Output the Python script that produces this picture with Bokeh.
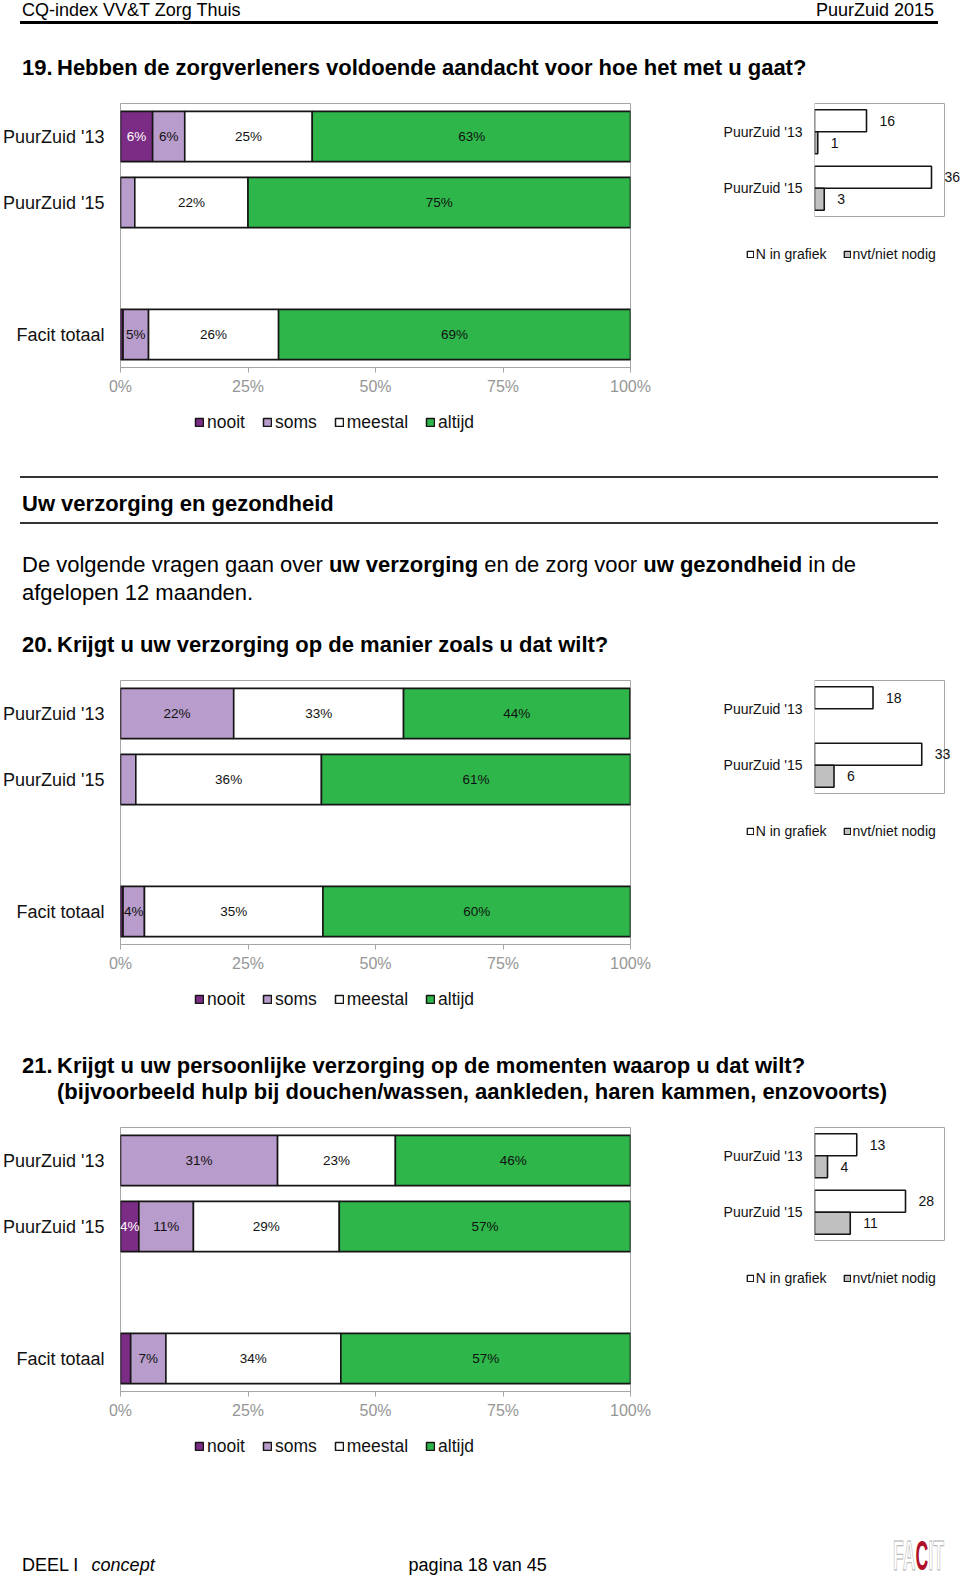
from bokeh.plotting import figure
from bokeh.layouts import column, row
from bokeh.models import (Range1d, FixedTicker, Legend, LegendItem, LabelSet,
                          ColumnDataSource, Div, BoxAnnotation)
from bokeh.embed import file_html
from bokeh.resources import INLINE
from bokeh.core.properties import value

FONT = "Liberation Sans"

# ---------------- data ----------------
rows = ["PuurZuid '13", "PuurZuid '15", "Facit totaal"]
answer_cats = ["nooit", "soms", "meestal", "altijd"]
answer_colors = ["#7B2C84", "#B89CCB", "#FFFFFF", "#2EB64A"]
tick_vals = [0, 25, 50, 75, 100]
tick_labels = ["0%", "25%", "50%", "75%", "100%"]

q19_nooit = [6.3, 0.0, 0.5]
q19_soms = [6.3, 2.8, 5.0]
q19_meestal = [25.0, 22.2, 25.5]
q19_altijd = [62.5, 75.0, 69.0]

q20_nooit = [0.0, 0.0, 0.5]
q20_soms = [22.2, 3.0, 4.2]
q20_meestal = [33.3, 36.4, 35.0]
q20_altijd = [44.4, 60.6, 60.3]

q21_nooit = [0.0, 3.6, 2.0]
q21_soms = [30.8, 10.7, 6.9]
q21_meestal = [23.1, 28.6, 34.3]
q21_altijd = [46.2, 57.1, 56.8]

n_rows = ["PuurZuid '13", "PuurZuid '15"]
n_cats = ["N in grafiek", "nvt/niet nodig"]
n_colors = ["#FFFFFF", "#C0C0C0"]
n_max = 40
q19_n = [16, 36]
q19_nvt = [1, 3]
q20_n = [18, 33]
q20_nvt = [0, 6]
q21_n = [13, 28]
q21_nvt = [4, 11]

GRAY = "#a6a6a6"
EDGE = "#151515"


def bare(width, height):
    p = figure(width=width, height=height, x_range=Range1d(0, 1), y_range=Range1d(0, 1),
               output_backend="svg", toolbar_location=None, x_axis_location=None,
               y_axis_location=None, min_border=0, min_border_left=0, min_border_right=0,
               min_border_top=0, min_border_bottom=0, frame_align=False)
    p.outline_line_color = None
    p.xgrid.visible = False
    p.ygrid.visible = False
    return p


def swatch_renderer(p, color, lw):
    # legend-only renderer: one zero-size row, so nothing shows on the canvas
    src = ColumnDataSource(dict(y=[0.5], left=[0.0], right=[0.0]))
    return p.hbar(y="y", left="left", right="right", height=0.0, fill_color=color,
                  line_color=EDGE, line_width=lw, source=src)


def main_chart(nooit, soms, meestal, altijd):
    ypos = [0, 1, 3]
    series = [nooit, soms, meestal, altijd]
    src = ColumnDataSource(dict(y=ypos, nooit=nooit, soms=soms,
                                meestal=meestal, altijd=altijd))
    p = figure(width=700, height=309, x_range=Range1d(0, 100),
               y_range=Range1d(3.5, -0.5), output_backend="svg",
               toolbar_location=None, min_border_left=120, min_border_right=70,
               min_border_top=10, min_border_bottom=35, frame_align=False)
    p.hbar_stack(answer_cats, y="y", height=0.76, color=answer_colors,
                 line_color=EDGE, line_width=1.6, source=src)
    xs, ys, ts, cs = [], [], [], []
    for i in range(len(ypos)):
        left = 0.0
        for k, s in enumerate(series):
            v = s[i]
            if v >= 3.5:
                xs.append(left + v / 2)
                ys.append(ypos[i])
                ts.append("%d%%" % int(v + 0.5))
                cs.append("#ffffff" if k == 0 else "#111111")
            left += v
    lab = LabelSet(x="x", y="y", text="t", text_color="c",
                   source=ColumnDataSource(dict(x=xs, y=ys, t=ts, c=cs)),
                   text_align="center", text_baseline="middle",
                   text_font=value(FONT), text_font_size="13.5px")
    p.add_layout(lab)

    p.xgrid.visible = False
    p.ygrid.visible = False
    p.outline_line_color = GRAY
    p.outline_line_width = 1

    xa = p.xaxis[0]
    xa.ticker = FixedTicker(ticks=tick_vals)
    xa.major_label_overrides = {v: l for v, l in zip(tick_vals, tick_labels)}
    xa.axis_line_color = GRAY
    xa.major_tick_line_color = GRAY
    xa.major_tick_out = 5
    xa.major_tick_in = 0
    xa.minor_tick_line_color = None
    xa.major_label_text_color = "#969696"
    xa.major_label_text_font = FONT
    xa.major_label_text_font_size = "16px"
    xa.major_label_standoff = 5

    ya = p.yaxis[0]
    ya.ticker = FixedTicker(ticks=ypos)
    ya.major_label_overrides = {v: l for v, l in zip(ypos, rows)}
    ya.axis_line_color = None
    ya.major_tick_line_color = None
    ya.minor_tick_line_color = None
    ya.major_tick_out = 0
    ya.major_tick_in = 0
    ya.major_label_standoff = 16
    ya.major_label_text_font = FONT
    ya.major_label_text_font_size = "18px"
    ya.major_label_text_color = "#111111"
    return p


def main_legend():
    p = bare(700, 36)
    rs = [swatch_renderer(p, c, 1.5) for c in answer_colors]
    leg = Legend(items=[LegendItem(label=c, renderers=[r])
                        for c, r in zip(answer_cats, rs)],
                 orientation="horizontal", location=(194, 5.5),
                 glyph_width=10, glyph_height=10, label_standoff=3,
                 spacing=17, padding=0, margin=0, border_line_color=None,
                 background_fill_alpha=0, label_text_font=FONT,
                 label_text_font_size="17.5px", label_height=20,
                 label_text_color="#111111")
    p.add_layout(leg)
    return p


def n_chart(nvals, nvt):
    ypos = [0, 1]
    pad = 2 / 56.5
    s1 = ColumnDataSource(dict(y=[y - 0.195 for y in ypos], v=nvals))
    nz = [(y, v) for y, v in zip(ypos, nvt) if v > 0]
    s2 = ColumnDataSource(dict(y=[y + 0.195 for y, v in nz], v=[v for y, v in nz]))
    p = figure(width=260, height=133, x_range=Range1d(0, n_max * 146 / 130),
               y_range=Range1d(1.5 + pad, -0.5 - pad), output_backend="svg",
               toolbar_location=None, min_border_left=114, min_border_right=0,
               min_border_top=8, min_border_bottom=8, frame_align=False,
               x_axis_location=None)
    p.outline_line_color = None
    p.add_layout(BoxAnnotation(left=0, right=n_max, top=-0.5, bottom=1.5,
                               fill_alpha=0, line_color=GRAY, line_width=1,
                               line_alpha=1))
    p.hbar(y="y", left=0, right="v", height=0.39, fill_color=n_colors[0],
           line_color=EDGE, line_width=1.6, source=s1)
    p.hbar(y="y", left=0, right="v", height=0.39, fill_color=n_colors[1],
           line_color=EDGE, line_width=1.6, source=s2)
    for s in (s1, s2):
        p.add_layout(LabelSet(x="v", y="y", text="v", source=s, x_offset=13,
                              text_align="left", text_baseline="middle",
                              text_font=value(FONT), text_font_size="14px",
                              text_color="#111111"))
    p.xgrid.visible = False
    p.ygrid.visible = False
    ya = p.yaxis[0]
    ya.ticker = FixedTicker(ticks=ypos)
    ya.major_label_overrides = {v: l for v, l in zip(ypos, n_rows)}
    ya.axis_line_color = None
    ya.major_tick_line_color = None
    ya.minor_tick_line_color = None
    ya.major_tick_out = 0
    ya.major_tick_in = 0
    ya.major_label_standoff = 12
    ya.major_label_text_font = FONT
    ya.major_label_text_font_size = "14px"
    ya.major_label_text_color = "#111111"
    return p


def n_legend():
    p = bare(260, 212)
    rs = [swatch_renderer(p, c, 1.3) for c in n_colors]
    leg = Legend(items=[LegendItem(label=c, renderers=[r])
                        for c, r in zip(n_cats, rs)],
                 orientation="horizontal", location=(45.7, 176.4),
                 glyph_width=8, glyph_height=8, label_standoff=2,
                 spacing=16, padding=0, margin=0, border_line_color=None,
                 background_fill_alpha=0, label_text_font=FONT,
                 label_text_font_size="14px", label_height=16,
                 label_text_color="#111111")
    p.add_layout(leg)
    return p


def chart_block(main_series, nvals, nvt):
    return row(column(main_chart(*main_series), main_legend(), spacing=0),
               column(n_chart(nvals, nvt), n_legend(), spacing=0),
               spacing=0)


def block(html, h):
    wrap = ('<div style="position:relative;width:960px;height:%dpx;'
            'font-family:\'Liberation Sans\',Arial,sans-serif;color:#000;">%s</div>' % (h, html))
    return Div(text=wrap, width=960, height=h, margin=0)


def txt(left, top, lh, size, content, extra=""):
    return ('<div style="position:absolute;left:%spx;top:%spx;line-height:%spx;'
            'font-size:%spx;white-space:nowrap;%s">%s</div>' % (left, top, lh, size, extra, content))


def hline(top, h, color):
    return ('<div style="position:absolute;left:20px;top:%spx;width:918px;height:%spx;'
            'background:%s;"></div>' % (top, h, color))


header_html = (
    txt(22, 0, 20, 18, "CQ-index VV&amp;T Zorg Thuis")
    + '<div style="position:absolute;right:26px;top:0px;line-height:20px;font-size:18px;white-space:nowrap;">PuurZuid 2015</div>'
    + hline(21, 3, "#000")
    + txt(22, 55, 26, 22, "19.", "font-weight:bold;")
    + txt(57, 55, 26, 22, "Hebben de zorgverleners voldoende aandacht voor hoe het met u gaat?", "font-weight:bold;")
)

mid_html = (
    hline(38, 2, "#333")
    + txt(22, 53, 26, 22, "Uw verzorging en gezondheid", "font-weight:bold;")
    + hline(84, 2, "#333")
    + txt(22, 113, 28.2, 22, "De volgende vragen gaan over <b>uw verzorging</b> en de zorg voor "
          "<b>uw gezondheid</b> in de<br>afgelopen 12 maanden.")
    + txt(22, 194, 26, 22, "20.", "font-weight:bold;")
    + txt(57, 194, 26, 22, "Krijgt u uw verzorging op de manier zoals u dat wilt?", "font-weight:bold;")
)

q21_html = (
    txt(22, 38, 26, 22, "21.", "font-weight:bold;")
    + txt(57, 38, 26, 22, "Krijgt u uw persoonlijke verzorging op de momenten waarop u dat wilt?", "font-weight:bold;")
    + txt(57, 64, 26, 22, "(bijvoorbeeld hulp bij douchen/wassen, aankleden, haren kammen, enzovoorts)", "font-weight:bold;")
)

footer_html = (
    txt(22, 92, 22, 18, "DEEL I")
    + txt(91.6, 92, 22, 18, "concept", "font-style:italic;")
    + txt(408.6, 92, 22, 18, "pagina 18 van 45")
    + '<div style="position:absolute;left:893px;top:73px;line-height:42px;font-size:42px;'
      'font-weight:bold;white-space:nowrap;transform:scaleX(0.42);transform-origin:0 0;'
      'font-family:\'Liberation Sans\',sans-serif;">'
      '<span style="color:#ffffff;-webkit-text-stroke:1px #b0b0b0;">FA</span>'
      '<span style="color:#b0102a;">C</span>'
      '<span style="color:#ffffff;-webkit-text-stroke:1px #b0b0b0;">IT</span></div>'
)

layout = column(
    block(header_html, 93),
    chart_block((q19_nooit, q19_soms, q19_meestal, q19_altijd), q19_n, q19_nvt),
    block(mid_html, 232),
    chart_block((q20_nooit, q20_soms, q20_meestal, q20_altijd), q20_n, q20_nvt),
    block(q21_html, 102),
    chart_block((q21_nooit, q21_soms, q21_meestal, q21_altijd), q21_n, q21_nvt),
    block(footer_html, 116),
    spacing=0,
)

open("out.html", "w").write(file_html(layout, INLINE))
